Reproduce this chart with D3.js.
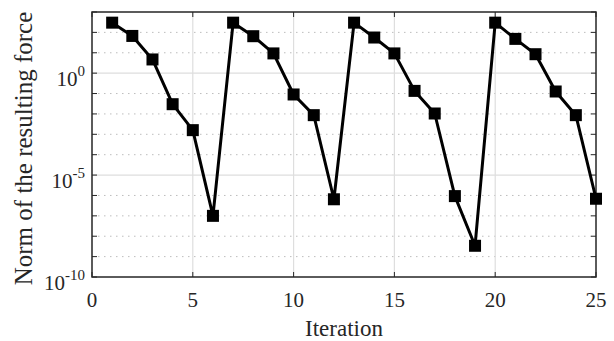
<!DOCTYPE html>
<html><head><meta charset="utf-8">
<script src="https://cdn.jsdelivr.net/npm/d3@7"></script>
<style>body{margin:0;background:#fff}svg{display:block}</style>
</head><body>
<script>
const iterations = d3.range(1, 26);
const forceNorm = [300, 67, 4.7, 0.03, 1.6e-3, 1.0e-7,
                   300, 65, 9.3, 0.09, 8.7e-3, 6.5e-7,
                   300, 56, 9.3, 0.135, 0.0105, 9.3e-7, 3.4e-9,
                   300, 48, 8.5, 0.126, 8.7e-3, 6.9e-7];
const xTicks = [0, 5, 10, 15, 20, 25];
const yMajorExp = [-10, -5, 0];
const yDecades = d3.range(-10, 4);
const xLabel = "Iteration";
const yLabel = "Norm of the resulting force";

const W = 614, H = 341;
const m = {l: 92, r: 18, t: 12, b: 64};
const svg = d3.select("body").append("svg").attr("width", W).attr("height", H);
const x = d3.scaleLinear().domain([0, 25]).range([m.l, W - m.r]);
const y = d3.scaleLog().domain([1e-10, 1e3]).range([H - m.b, m.t]);
const font = "Liberation Serif";
const x0 = x.range()[0], x1 = x.range()[1], y0 = y.range()[0], y1 = y.range()[1];

// minor dotted grid
const minorExp = yDecades.filter(e => !yMajorExp.includes(e) && e > -10 && e < 3);
svg.append("g").selectAll("line").data(minorExp).join("line")
  .attr("x1", x0).attr("x2", x1)
  .attr("y1", e => y(Math.pow(10, e))).attr("y2", e => y(Math.pow(10, e)))
  .attr("stroke", "#bdbdbd").attr("stroke-width", 1).attr("stroke-dasharray", "1.5,4.5");
// major grid
svg.append("g").selectAll("line").data(yMajorExp.filter(e => e > -10)).join("line")
  .attr("x1", x0).attr("x2", x1)
  .attr("y1", e => y(Math.pow(10, e))).attr("y2", e => y(Math.pow(10, e)))
  .attr("stroke", "#dedede").attr("stroke-width", 1.2);
svg.append("g").selectAll("line").data(xTicks.filter(t => t > 0 && t < 25)).join("line")
  .attr("x1", d => x(d)).attr("x2", d => x(d)).attr("y1", y0).attr("y2", y1)
  .attr("stroke", "#dedede").attr("stroke-width", 1.2);

// ticks (inward, all four sides)
const tc = "#262626", tl = 5;
const tg = svg.append("g").attr("stroke", tc).attr("stroke-width", 1);
xTicks.forEach(t => {
  tg.append("line").attr("x1", x(t)).attr("x2", x(t)).attr("y1", y0).attr("y2", y0 - tl);
  tg.append("line").attr("x1", x(t)).attr("x2", x(t)).attr("y1", y1).attr("y2", y1 + tl);
});
yDecades.forEach(e => {
  const yy = y(Math.pow(10, e));
  tg.append("line").attr("x1", x0).attr("x2", x0 + tl).attr("y1", yy).attr("y2", yy);
  tg.append("line").attr("x1", x1).attr("x2", x1 - tl).attr("y1", yy).attr("y2", yy);
});
// box
svg.append("rect").attr("x", x0).attr("y", y1).attr("width", x1 - x0).attr("height", y0 - y1)
  .attr("fill", "none").attr("stroke", tc).attr("stroke-width", 1.5);

// x tick labels
svg.append("g").selectAll("text").data(xTicks).join("text")
  .attr("x", d => x(d)).attr("y", y0 + 30).attr("text-anchor", "middle")
  .style("font-family", font).style("font-size", "21px").attr("fill", "#262626").text(d => d);
// y tick labels
const yl = svg.append("g").selectAll("text").data(yMajorExp).join("text")
  .attr("x", x0 - 7).attr("y", e => y(Math.pow(10, e)) + 13).attr("text-anchor", "end")
  .style("font-family", font).style("font-size", "21px").attr("fill", "#262626");
yl.append("tspan").text("10");
yl.append("tspan").attr("dy", -10).style("font-size", "15px").text(e => e);

// axis titles
svg.append("text").attr("x", (x0 + x1) / 2).attr("y", 336).attr("text-anchor", "middle")
  .style("font-family", font).style("font-size", "23px").attr("fill", "#262626").text(xLabel);
svg.append("text").attr("transform", `translate(32,${(y0 + y1) / 2 + 4}) rotate(-90)`)
  .attr("text-anchor", "middle").style("font-family", font).style("font-size", "25px")
  .attr("fill", "#262626").text(yLabel);

// line + markers
const line = d3.line().x((d, i) => x(iterations[i])).y(d => y(d));
svg.append("path").datum(forceNorm).attr("d", line).attr("fill", "none")
  .attr("stroke", "#000").attr("stroke-width", 3).attr("stroke-linejoin", "round");
const s = 12;
svg.append("g").selectAll("rect").data(forceNorm).join("rect")
  .attr("x", (d, i) => x(iterations[i]) - s / 2).attr("y", d => y(d) - s / 2)
  .attr("width", s).attr("height", s).attr("fill", "#000");
</script>
</body></html>
